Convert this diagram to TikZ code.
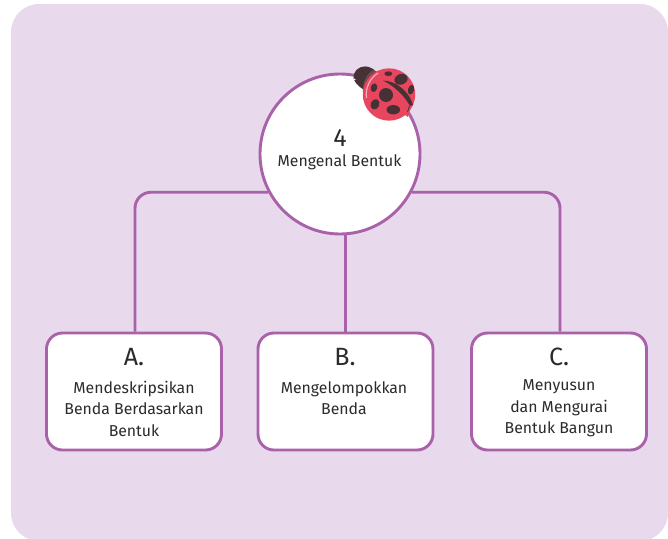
\documentclass[tikz,border=0pt]{standalone}
\usepackage{fontspec}
\setmainfont{Fira Sans}
\definecolor{bgp}{HTML}{E8D9EC}
\definecolor{linep}{HTML}{A962A9}
\definecolor{txt}{HTML}{2B2B2D}
\definecolor{bug}{HTML}{E8465F}
\definecolor{bugd}{HTML}{463234}
\definecolor{bugc}{HTML}{6B4C50}
\tikzset{
  conn/.style={draw=linep,line width=2.9pt,rounded corners=16pt},
  hubnode/.style={circle,draw=linep,fill=white,line width=2.9pt,minimum size=160pt,inner sep=0pt,text=txt,align=center},
  boxnode/.style={rounded corners=16pt,draw=linep,fill=white,line width=2.9pt,minimum width=175pt,minimum height=117pt,inner sep=0pt,text=txt},
  head/.style={font=\fontsize{25}{28}\selectfont,text=txt,inner sep=0pt},
  body/.style={font=\fontsize{15.8}{21.5}\selectfont,text=txt,align=center,inner sep=0pt},
  spot/.style={fill=bugd,draw=none}
}
\begin{document}
\begin{tikzpicture}[x=1pt,y=-1pt]
\useasboundingbox (0,0) rectangle (668,538);
\begin{scope}
\clip (0,0) rectangle (668,538);
\fill[bgp,rounded corners=28pt] (11,4) rectangle (668,541);
\end{scope}
\node[hubnode] (hub) at (340,154) {};
\node[boxnode] (A) at (134,391.5) {};
\node[boxnode] (B) at (345.5,391.5) {};
\node[boxnode] (C) at (559,391.5) {};
\draw[conn] (hub.208) -| ([xshift=1pt]A.north);
\draw[conn] (hub.-28) -| ([xshift=1pt]C.north);
\draw[conn] (B.north |- hub.south) -- (B.north);
\node[head] (n4) at (340,138.5) {4};
\node[body] (hl) at (339.5,162) {Mengenal Bentuk};
\node[head] (ah) at (134,357) {A.};
\node[body] (at) at (134,408.5) {Mendeskripsikan\\Benda Berdasarkan\\Bentuk};
\node[head] (bh) at (345,357) {B.};
\node[body] (bt) at (344,398) {Mengelompokkan\\Benda};
\node[head] (ch) at (559,357) {C.};
\node[body] (ct) at (559,408.5) {Menyusun\\dan Mengurai\\Bentuk Bangun};
% ladybird
\fill[bugd] (353.5,76) .. controls (355,68) and (364,64) .. (371,68) .. controls (378,70) and (380,82) .. (374,90) .. controls (368,94) and (360,88) .. (356,83) .. controls (354,81) and (353,79) .. (353.5,76) -- cycle;
\fill[white] (354.7,79.5) circle (1pt);
\fill[bugc] (363,92) .. controls (362,82) and (367,74) .. (373,70) -- (378,72) -- (372,96) -- cycle;
\fill[bug] (389,94.5) circle (26.2pt);
\draw[white!55!bug,line width=1.2pt] (366.5,98) .. controls (365,88) and (370,78) .. (378,73);
\fill[spot] (386,95) circle (7pt);
\fill[spot] (401,79.3) ellipse [x radius=6.8pt,y radius=5.3pt,rotate=20];
\fill[spot] (388.3,73.7) ellipse [x radius=4pt,y radius=2.4pt];
\fill[spot] (374,87.7) ellipse [x radius=3.2pt,y radius=4.4pt,rotate=-15];
\fill[spot] (411,89.7) ellipse [x radius=3pt,y radius=5pt,rotate=-15];
\fill[spot] (375,104.3) ellipse [x radius=4.3pt,y radius=5.4pt,rotate=-25];
\fill[spot] (393.3,109.7) ellipse [x radius=6.8pt,y radius=4.7pt];
\fill[spot] (383,80.5) .. controls (396,81) and (409,91) .. (413,105) -- (410,106) .. controls (404,95) and (394,86) .. (383,80.5) -- cycle;
\fill[bug] (408.5,106) -- (411,105.5) -- (408,117) -- (405,115) -- cycle;
\draw[bugd,line width=.8pt] (409.5,106) -- (407.5,112);
\end{tikzpicture}
\end{document}
